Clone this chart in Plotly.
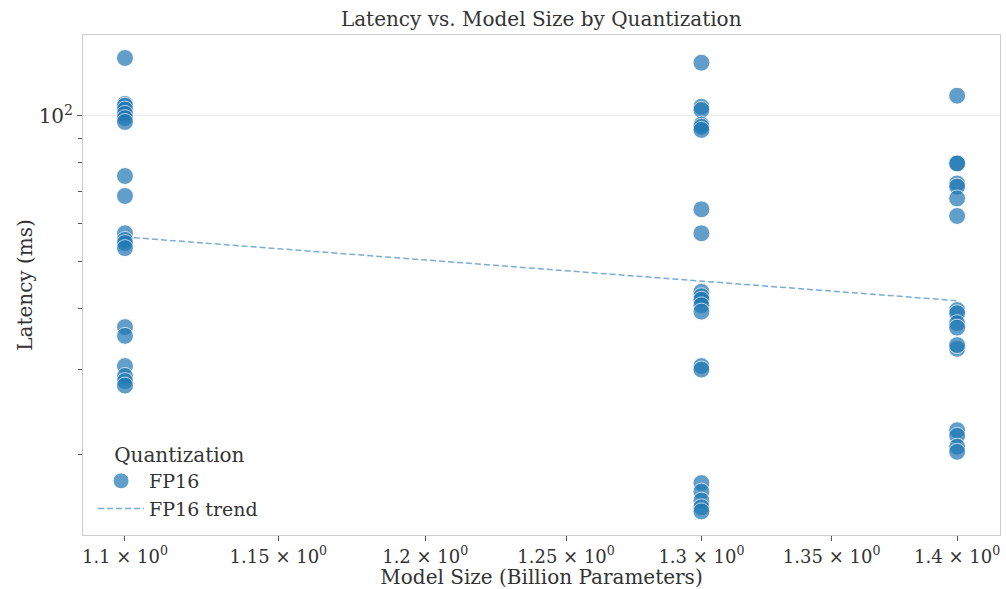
import plotly.graph_objects as go
import numpy as np

# Data
size_11 = [131.7, 105.9, 105.0, 103.1, 101.0, 99.0, 97.2, 75.2, 68.4, 57.3, 55.5, 54.7, 53.4,
           36.7, 35.2, 30.5, 29.1, 28.4, 27.8]
size_13 = [128.8, 104.5, 102.9, 96.0, 95.0, 93.6, 64.2, 57.3, 43.4, 42.5, 41.8, 40.7, 39.5,
           30.5, 30.0, 17.5, 16.8, 16.1, 15.6, 15.3]
size_14 = [110.1, 79.9, 79.8, 72.6, 71.5, 67.6, 62.2, 39.8, 39.2, 37.4, 36.6, 33.1, 33.7,
           22.5, 21.9, 20.8, 20.3]
model_sizes = [1.1, 1.3, 1.4]
trend_x = [1.1, 1.4]
trend_y = [56.3, 41.6]
x_ticks = [1.1, 1.15, 1.2, 1.25, 1.3, 1.35, 1.4]
x_tick_text = ["1.1 × 10<sup>0</sup>", "1.15 × 10<sup>0</sup>", "1.2 × 10<sup>0</sup>", "1.25 × 10<sup>0</sup>",
               "1.3 × 10<sup>0</sup>", "1.35 × 10<sup>0</sup>", "1.4 × 10<sup>0</sup>"]
y_minor = [20, 30, 40, 50, 60, 70, 80, 90]

xs, ys = [], []
for s, vals in zip(model_sizes, [size_11, size_13, size_14]):
    xs += [s] * len(vals)
    ys += vals

FONT = "DejaVu Serif"
BLUE = "#1f77b4"

fig = go.Figure()
fig.add_trace(go.Scatter(
    x=xs, y=ys, mode="markers", name="FP16",
    marker=dict(color=BLUE, size=17, opacity=0.7, line=dict(color="white", width=1)),
))
fig.add_trace(go.Scatter(
    x=trend_x, y=trend_y, mode="lines", name="FP16 trend",
    line=dict(color="rgba(31,119,180,0.6)", width=1.5, dash="6px,3px"),
))

fig.update_layout(
    width=1006, height=589,
    margin=dict(l=83, r=6, t=35, b=54),
    paper_bgcolor="white", plot_bgcolor="white",
    font=dict(family=FONT, color="#333333", size=18),
    title=dict(text="Latency vs. Model Size by Quantization", x=0.538, xanchor="center",
               y=0.967, yanchor="middle", font=dict(size=20, family=FONT, color="#333333")),
    legend=dict(
        title=dict(text="&nbsp;&nbsp;&nbsp;Quantization", font=dict(size=20)),
        x=0.011, y=0.198, xanchor="left", yanchor="top",
        bgcolor="rgba(255,255,255,0)", font=dict(size=19),
        itemwidth=46, tracegroupgap=0,
    ),
    showlegend=True,
)
fig.update_xaxes(
    type="log", range=[np.log10(1.0867), np.log10(1.4175)],
    tickvals=x_ticks, ticktext=x_tick_text,
    ticks="outside", ticklen=5, tickcolor="#555555",
    showgrid=False, zeroline=False, automargin=False,
    showline=True, linecolor="#cccccc", mirror=True, linewidth=1,
    tickfont=dict(size=18),
    title=dict(text="Model Size (Billion Parameters)", font=dict(size=20), standoff=4),
)
fig.update_yaxes(
    type="log", range=[1.136, 2.167],
    tickvals=[100], ticktext=["10<sup>2</sup>"],
    ticks="outside", ticklen=5, tickcolor="#555555",
    showgrid=True, gridcolor="#ebebeb", gridwidth=1, zeroline=False, automargin=False,
    showline=True, linecolor="#cccccc", mirror=True, linewidth=1,
    minor=dict(tickvals=y_minor, ticks="outside", ticklen=4, tickcolor="#555555", showgrid=False),
    tickfont=dict(size=20),
    title=dict(text="Latency (ms)", font=dict(size=20), standoff=0),
)

fig.write_html("out.html")
